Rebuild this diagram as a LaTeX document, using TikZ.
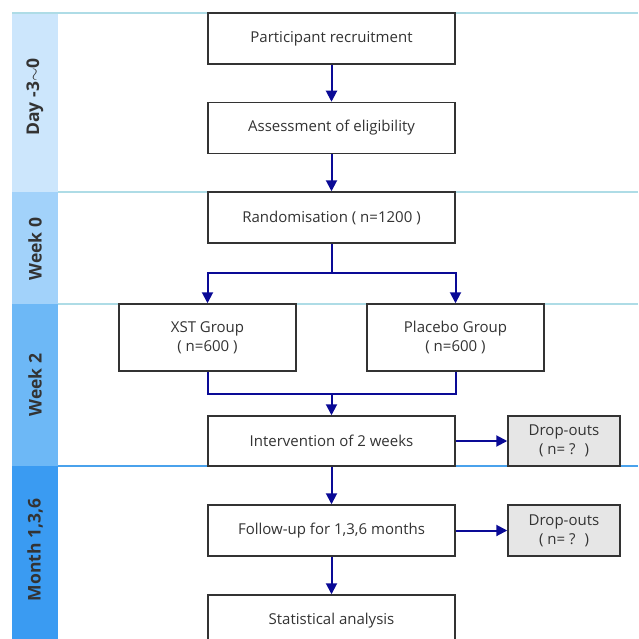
\documentclass[tikz,border=0pt]{standalone}
\usepackage{fontspec}
\setmainfont{Open Sans}
\usetikzlibrary{arrows.meta}
\definecolor{laneA}{HTML}{CCE6FC}
\definecolor{laneB}{HTML}{A2D2FA}
\definecolor{laneC}{HTML}{6DB8F6}
\definecolor{laneD}{HTML}{3A9BF2}
\definecolor{sepline}{HTML}{AEDCE6}
\definecolor{sepblue}{HTML}{4AA2EC}
\definecolor{arrowc}{HTML}{0A0A96}
\definecolor{txt}{HTML}{333333}
\definecolor{dropfill}{HTML}{E6E6E6}
\tikzset{
  box/.style={draw=txt, line width=1.5pt, fill=white, text=txt, align=center, font=\fontsize{15}{19}\selectfont, inner sep=0pt},
  dropbox/.style={box, fill=dropfill},
  flow/.style={draw=arrowc, line width=2pt, -{Triangle[length=11pt,width=11pt]}},
  flowline/.style={draw=arrowc, line width=2pt},
  lanelab/.style={rotate=90, font=\bfseries\fontsize{17.5}{20}\selectfont, text=txt},
}
\begin{document}
\begin{tikzpicture}[x=1pt,y=-1pt]
\useasboundingbox (0,0) rectangle (638,639);
\fill[white] (0,0) rectangle (638,639);
% lanes
\fill[laneA] (12,13) rectangle (58,192);
\fill[laneB] (12,192) rectangle (58,304);
\fill[laneC] (12,304) rectangle (58,466);
\fill[laneD] (12,466) rectangle (58,639);
\draw[sepline, line width=1.2pt] (12,13) -- (638,13);
\draw[sepline, line width=1.2pt] (58,192) -- (638,192);
\draw[sepline, line width=1.2pt] (58,304) -- (638,304);
\draw[sepblue, line width=1.2pt] (58,466) -- (638,466);
\node[lanelab] (l1) at (35,97) {Day -3$\sim$0};
\node[lanelab] (l2) at (35,249) {Week 0};
\node[lanelab] (l3) at (35,385) {Week 2};
\node[lanelab] (l4) at (35,550) {Month 1,3,6};
% boxes
\node[box, minimum width=247pt, minimum height=51pt] (rec) at (331.5,38.5) {Participant recruitment};
\node[box, minimum width=247pt, minimum height=51pt] (elig) at (331.5,128) {Assessment of eligibility};
\node[box, minimum width=247pt, minimum height=51pt] (rand) at (331.5,217.5) {Randomisation ( n=1200 )};
\node[box, minimum width=177pt, minimum height=67pt] (xst) at (207.5,337.5) {XST Group\\( n=600 )};
\node[box, minimum width=177pt, minimum height=67pt] (plac) at (455.5,337.5) {Placebo Group\\( n=600 )};
\node[box, minimum width=247pt, minimum height=50pt] (int) at (331.5,441) {Intervention of 2 weeks};
\node[dropbox, minimum width=112pt, minimum height=50pt] (d1) at (564,441) {Drop-outs\\( n= ?~ )};
\node[box, minimum width=247pt, minimum height=51pt] (fol) at (331.5,530.5) {Follow-up for 1,3,6 months};
\node[dropbox, minimum width=112pt, minimum height=51pt] (d2) at (564,530.5) {Drop-outs\\( n= ?~ )};
\begin{scope}
\clip (0,0) rectangle (638,639);
\node[box, minimum width=247pt, minimum height=51pt] (stat) at (331.5,620.5) {Statistical analysis};
\end{scope}
% connectors
\coordinate (split) at (331.5,273);
\coordinate (merge) at (331.5,394);
\draw[flow] (rec) -- (elig);
\draw[flow] (elig) -- (rand);
\draw[flowline] (rand) -- (split);
\draw[flow] (split) -| (xst.north);
\draw[flow] (split) -| (plac.north);
\draw[flowline] (xst.south) |- (merge);
\draw[flowline] (plac.south) |- (merge);
\draw[flow] (merge) -- (int);
\draw[flow] (int) -- (d1);
\draw[flow] (int) -- (fol);
\draw[flow] (fol) -- (d2);
\draw[flow] (fol) -- (stat.north);
\end{tikzpicture}
\end{document}
